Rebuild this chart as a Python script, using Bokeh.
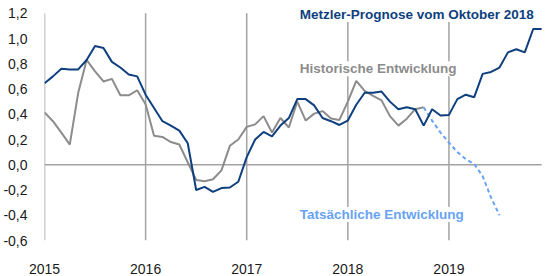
from bokeh.plotting import figure
from bokeh.models import FixedTicker, Label, Range1d, CustomJSTickFormatter
from bokeh.embed import file_html
from bokeh.resources import INLINE

# ---- data (monthly, Jan 2015 = month 0) ----
years = ["2015", "2016", "2017", "2018", "2019"]
year_months = [0, 12, 24, 36, 48]
y_ticks = [-0.6, -0.4, -0.2, 0.0, 0.2, 0.4, 0.6, 0.8, 1.0, 1.2]

metzler = [0.645, 0.70, 0.76, 0.755, 0.755, 0.83, 0.94, 0.925, 0.815, 0.77, 0.715, 0.70,
           0.555, 0.45, 0.345, 0.31, 0.27, 0.17, -0.20, -0.175, -0.215, -0.185, -0.18, -0.135,
           0.06, 0.20, 0.26, 0.225, 0.31, 0.37, 0.52, 0.52, 0.47, 0.37, 0.345, 0.315,
           0.35, 0.475, 0.57, 0.57, 0.58, 0.50, 0.44, 0.455, 0.44, 0.31, 0.44, 0.39,
           0.395, 0.52, 0.555, 0.535, 0.72, 0.735, 0.77, 0.89, 0.915, 0.89, 1.075, 1.075]

historisch = [0.415, 0.345, 0.255, 0.16, 0.57, 0.83, 0.74, 0.66, 0.68, 0.55, 0.55, 0.59,
              0.48, 0.23, 0.22, 0.18, 0.16, 0.02, -0.12, -0.13, -0.115, -0.045, 0.15, 0.20,
              0.30, 0.32, 0.385, 0.255, 0.37, 0.295, 0.50, 0.35, 0.405, 0.425, 0.367, 0.355,
              0.50, 0.665, 0.585, 0.545, 0.51, 0.385, 0.31, 0.365, 0.44, 0.455]

tatsaechlich = [0.455, 0.35, 0.255, 0.175, 0.10, 0.045, 0.005, -0.09, -0.26, -0.40]
tatsaechlich_start = 45

x_metzler = list(range(len(metzler)))
x_hist = list(range(len(historisch)))
x_tats = list(range(tatsaechlich_start, tatsaechlich_start + len(tatsaechlich)))

DARK_BLUE = "#0e3f7e"
GREY = "#8c8c8c"
LIGHT_BLUE = "#68a3f3"
AXIS_GREY = "#a3a3a3"
FONT = "Liberation Sans"

Y_MIN, Y_MAX = y_ticks[0], y_ticks[-1]
X_LAST = len(metzler) - 1

# frame spans to the top and right edge of the canvas so labels are not clipped
p = figure(width=552, height=276, output_backend="svg", toolbar_location=None,
           x_range=Range1d(0, X_LAST + 1.29), y_range=Range1d(Y_MIN, Y_MAX + 0.101),
           min_border_left=37, min_border_right=0, min_border_top=0, min_border_bottom=32)
p.outline_line_color = None
p.background_fill_color = "white"
p.border_fill_color = "white"
p.xgrid.grid_line_color = None
p.ygrid.grid_line_color = None

# x axis
p.xaxis.ticker = FixedTicker(ticks=year_months)
p.xaxis.major_label_overrides = {m: y for m, y in zip(year_months, years)}
p.xaxis.axis_line_color = None
p.xaxis.major_tick_line_color = None
p.xaxis.minor_tick_line_color = None
p.xaxis.major_label_standoff = 17
p.xaxis.major_label_text_font = FONT
p.xaxis.major_label_text_font_size = "14px"
p.xaxis.major_label_text_color = "#1a1a1a"

# y axis
p.yaxis.ticker = FixedTicker(ticks=y_ticks)
p.yaxis.formatter = CustomJSTickFormatter(code="return tick.toFixed(1).replace('.', ',');")
p.yaxis.axis_line_color = None
p.yaxis.major_tick_line_color = None
p.yaxis.minor_tick_line_color = None
p.yaxis.major_label_standoff = 11
p.yaxis.major_label_text_font = FONT
p.yaxis.major_label_text_font_size = "14px"
p.yaxis.major_label_text_color = "#1a1a1a"

# vertical year lines (incl. left axis line) and zero line
p.segment(x0=year_months, y0=[Y_MIN] * len(year_months), x1=year_months,
          y1=[Y_MAX] * len(year_months), line_color=AXIS_GREY, line_width=1.5)
p.segment(x0=[0], y0=[0], x1=[X_LAST], y1=[0], line_color=AXIS_GREY, line_width=1.5)

p.line(x_hist, historisch, line_color=GREY, line_width=2)
p.line(x_tats, tatsaechlich, line_color=LIGHT_BLUE, line_width=2, line_dash="4 3")
p.line(x_metzler, metzler, line_color=DARK_BLUE, line_width=2)

for txt, yy, col in [("Metzler-Prognose vom Oktober 2018", 1.19, DARK_BLUE),
                     ("Historische Entwicklung", 0.761, GREY),
                     ("Tatsächliche Entwicklung", -0.395, LIGHT_BLUE)]:
    p.add_layout(Label(x=30.3, y=yy, text=txt, text_font=FONT, text_font_style="bold",
                       text_font_size="13.5px", text_color=col, text_baseline="middle",
                       text_align="left", background_fill_color="white"))

open("out.html", "w").write(file_html(p, INLINE))
